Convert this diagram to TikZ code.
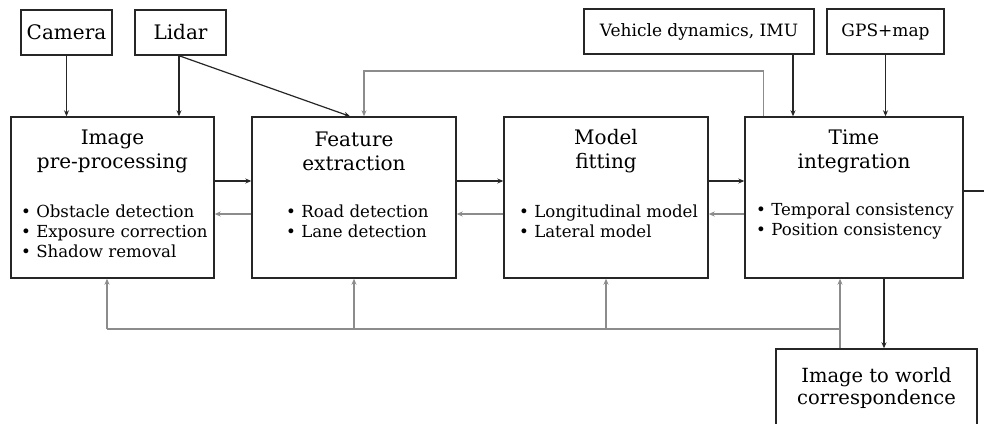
\documentclass[tikz,border=0pt]{standalone}
\usepackage{fontspec}
\setmainfont{DejaVu Serif}
\usetikzlibrary{arrows.meta}
\tikzset{
  box/.style={draw=black!85, line width=1.4pt, inner sep=0pt, rectangle},
  ttl/.style={align=center, inner sep=0pt, font=\fontsize{20}{24}\selectfont},
  lst/.style={align=left, inner sep=0pt, anchor=west, font=\fontsize{16.6}{20}\selectfont},
  arr/.style={draw=black!85, line width=1.2pt, -{Stealth[length=6pt,width=5pt]}},
  garr/.style={draw=black!45, line width=1.2pt, -{Stealth[length=6pt,width=5pt]}},
  gline/.style={draw=black!45, line width=1.2pt},
  bline/.style={draw=black!85, line width=1.2pt}
}
\begin{document}
\begin{tikzpicture}[x=1pt,y=-1pt]
\useasboundingbox (0,0) rectangle (984,423);
\clip (0,0) rectangle (984,423);
% input boxes
\node[box, minimum width=91, minimum height=45, font=\fontsize{20}{24}\selectfont] (cam) at (66.5,32.5) {Camera};
\node[box, minimum width=91, minimum height=45, font=\fontsize{20}{24}\selectfont] (lidar) at (180.5,32.5) {Lidar};
\node[box, minimum width=230, minimum height=45, font=\fontsize{17}{20}\selectfont] (veh) at (699,31.5) {Vehicle dynamics, IMU};
\node[box, minimum width=117, minimum height=45, font=\fontsize{17}{20}\selectfont] (gps) at (885.5,31.5) {GPS+map};
% main boxes
\node[box, minimum width=203, minimum height=161] (b1) at (112.5,197.5) {};
\node[box, minimum width=204, minimum height=161] (b2) at (354,197.5) {};
\node[box, minimum width=204, minimum height=161] (b3) at (606,197.5) {};
\node[box, minimum width=218, minimum height=161] (b4) at (854,197.5) {};
\node[box, minimum width=201, minimum height=96] (b5) at (876.5,397) {};
% texts
\node[ttl] (b1t) at (112.5,151) {Image\\pre-processing};
\node[lst] (b1l) at (21,231) {• Obstacle detection\\• Exposure correction\\• Shadow removal};
\node[ttl] (b2t) at (354,151) {Feature\\extraction};
\node[lst] (b2l) at (286,221) {• Road detection\\• Lane detection};
\node[ttl] (b3t) at (606,151) {Model\\fitting};
\node[lst] (b3l) at (519,221) {• Longitudinal model\\• Lateral model};
\node[ttl] (b4t) at (854,151) {Time\\integration};
\node[lst] (b4l) at (756,221) {• Temporal consistency\\• Position consistency};
\node[ttl, font=\fontsize{19.5}{22}\selectfont] (b5t) at (876.5,388) {Image to world\\correspondence};
% inputs
\draw[arr] (cam.south) -- (cam.south |- b1.north);
\draw[arr] ([xshift=-1.5pt]lidar.south) -- ([xshift=-1.5pt]lidar.south |- b1.north);
\draw[arr] ([xshift=-1.5pt]lidar.south) -- ([xshift=-4pt]b2.north);
\draw[arr] ([xshift=94pt]veh.south) -- ([xshift=94pt]veh.south |- b4.north);
\draw[arr] (gps.south) -- (gps.south |- b4.north);
% top feedback
\coordinate (tf) at (364,71);
\draw[garr] ([xshift=19pt]b4.north west) |- (tf) -- (tf |- b2.north);
% forward
\draw[arr] ([yshift=16.5pt]b1.east) -- ([yshift=16.5pt]b2.west);
\draw[arr] ([yshift=16.5pt]b2.east) -- ([yshift=16.5pt]b3.west);
\draw[arr] ([yshift=16.5pt]b3.east) -- ([yshift=16.5pt]b4.west);
% backward
\draw[garr] ([yshift=-16.5pt]b2.west) -- ([yshift=-16.5pt]b1.east);
\draw[garr] ([yshift=-16.5pt]b3.west) -- ([yshift=-16.5pt]b2.east);
\draw[garr] ([yshift=-16.5pt]b4.west) -- ([yshift=-16.5pt]b3.east);
% output right
\coordinate (rend) at (984,191);
\draw[bline] (rend -| b4.east) -- (rend);
% to image-to-world
\draw[arr] ([xshift=30pt]b4.south) -- ([xshift=30pt]b4.south |- b5.north);
% bottom feedback
\coordinate (bj) at (840,329);
\coordinate (bl) at (107,329);
\draw[gline] (bj |- b5.north) -- (bj) -- (bl);
\draw[garr] (bj) -- (bj |- b4.south);
\draw[garr] (bl) -- (bl |- b1.south);
\draw[garr] (b2.south |- bj) -- (b2.south);
\draw[garr] (b3.south |- bj) -- (b3.south);
\end{tikzpicture}
\end{document}
